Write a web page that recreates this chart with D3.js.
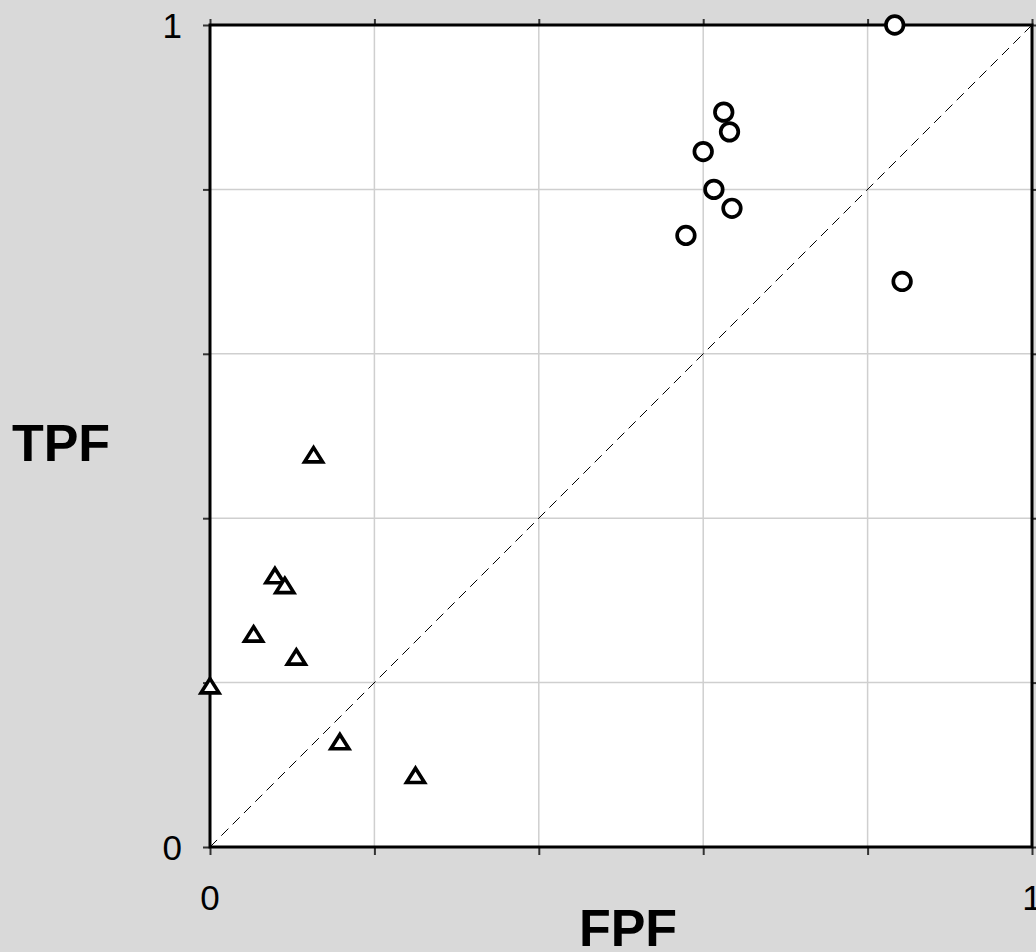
<!DOCTYPE html>
<meta charset="utf-8">
<head>
    <script src="https://d3js.org/d3.v7.min.js"></script>
    <style>
        body { margin: 0; background: #d9d9d9; }
        svg { display: block; font-family: "Liberation Sans", Arial, sans-serif; }
    </style>
</head>
<body>
<div id="chart"></div>
<script>
    // ROC points (FPF, TPF)
    const circleFPF = [0.833, 0.625, 0.632, 0.600, 0.613, 0.635, 0.579, 0.842]
    const circleTPF = [1.000, 0.894, 0.870, 0.846, 0.800, 0.777, 0.744, 0.688]

    const triFPF = [0.126, 0.079, 0.091, 0.053, 0.105, 0.000, 0.158, 0.250]
    const triTPF = [0.476, 0.329, 0.317, 0.258, 0.230, 0.195, 0.127, 0.086]

    const gridTicks = [0, 0.2, 0.4, 0.6, 0.8, 1]
    const labelTicks = [0, 1]

    const W = 1036, H = 952
    const plotLeft = 210, plotTop = 25, size = 822

    const svg = d3.select("#chart").append("svg")
        .attr("width", W)
        .attr("height", H)

    svg.append("rect").attr("width", W).attr("height", H).attr("fill", "#d9d9d9")

    const x = d3.scaleLinear().domain([0, 1]).range([plotLeft, plotLeft + size])
    const y = d3.scaleLinear().domain([0, 1]).range([plotTop + size, plotTop])

    // plot area
    svg.append("rect")
        .attr("x", x(0)).attr("y", y(1))
        .attr("width", size).attr("height", size)
        .attr("fill", "white")

    // grid
    svg.append("g").selectAll("line")
        .data(gridTicks.slice(1, -1))
        .join("line")
        .attr("x1", d => x(d)).attr("x2", d => x(d))
        .attr("y1", y(0)).attr("y2", y(1))
        .attr("stroke", "#cfcfcf").attr("stroke-width", 1.5)
    svg.append("g").selectAll("line")
        .data(gridTicks.slice(1, -1))
        .join("line")
        .attr("y1", d => y(d)).attr("y2", d => y(d))
        .attr("x1", x(0)).attr("x2", x(1))
        .attr("stroke", "#cfcfcf").attr("stroke-width", 1.5)

    // axes on all four sides, ticks outward
    function styleAxis(g) {
        g.select(".domain").remove()
        g.selectAll(".tick line").attr("stroke", "#333").attr("stroke-width", 2)
        g.selectAll(".tick text").remove()
    }
    svg.append("g").attr("transform", `translate(0,${y(0)})`)
        .call(d3.axisBottom(x).tickValues(gridTicks).tickSize(8)).call(styleAxis)
    svg.append("g").attr("transform", `translate(0,${y(1)})`)
        .call(d3.axisTop(x).tickValues(gridTicks).tickSize(6)).call(styleAxis)
    svg.append("g").attr("transform", `translate(${x(0)},0)`)
        .call(d3.axisLeft(y).tickValues(gridTicks).tickSize(7)).call(styleAxis)
    svg.append("g").attr("transform", `translate(${x(1)},0)`)
        .call(d3.axisRight(y).tickValues(gridTicks).tickSize(6)).call(styleAxis)

    // frame
    svg.append("rect")
        .attr("x", x(0)).attr("y", y(1))
        .attr("width", size).attr("height", size)
        .attr("fill", "none").attr("stroke", "black").attr("stroke-width", 3)

    // chance diagonal
    svg.append("line")
        .attr("x1", x(0)).attr("y1", y(0))
        .attr("x2", x(1)).attr("y2", y(1))
        .attr("stroke", "black").attr("stroke-width", 1)
        .attr("stroke-dasharray", "10,6")

    // tick labels
    svg.append("g").selectAll("text")
        .data(labelTicks)
        .join("text")
        .attr("x", 182)
        .attr("y", d => y(d))
        .attr("dy", "0.36em")
        .attr("text-anchor", "end")
        .attr("font-size", 35)
        .text(d => d)
    svg.append("g").selectAll("text")
        .data(labelTicks)
        .join("text")
        .attr("x", d => x(d))
        .attr("y", 910)
        .attr("text-anchor", "middle")
        .attr("font-size", 35)
        .text(d => d)

    // axis titles
    svg.append("text")
        .attr("x", 61).attr("y", 461)
        .attr("text-anchor", "middle")
        .attr("font-size", 52).attr("font-weight", "bold")
        .text("TPF")
    svg.append("text")
        .attr("x", 628).attr("y", 946)
        .attr("text-anchor", "middle")
        .attr("font-size", 52).attr("font-weight", "bold")
        .text("FPF")

    // triangle centred on its bounding box
    const triangle = {
        draw(ctx, s) {
            const w = Math.sqrt(s) * 0.6, h = w * 0.95
            ctx.moveTo(0, -h * 0.95)
            ctx.lineTo(w, h * 0.72)
            ctx.lineTo(-w, h * 0.72)
            ctx.closePath()
        }
    }

    const circles = circleFPF.map((f, i) => ({ f, t: circleTPF[i] }))
    const tris = triFPF.map((f, i) => ({ f, t: triTPF[i] }))

    svg.append("g").selectAll("circle")
        .data(circles)
        .join("circle")
        .attr("cx", d => x(d.f))
        .attr("cy", d => y(d.t))
        .attr("r", 8.8)
        .attr("fill", "white")
        .attr("stroke", "black")
        .attr("stroke-width", 3.7)

    svg.append("g").selectAll("path")
        .data(tris)
        .join("path")
        .attr("transform", d => `translate(${x(d.f)},${y(d.t)})`)
        .attr("d", d3.symbol().type(triangle).size(225))
        .attr("fill", "white")
        .attr("stroke", "black")
        .attr("stroke-width", 3.6)
        .attr("stroke-linejoin", "miter")
</script>
</body>
